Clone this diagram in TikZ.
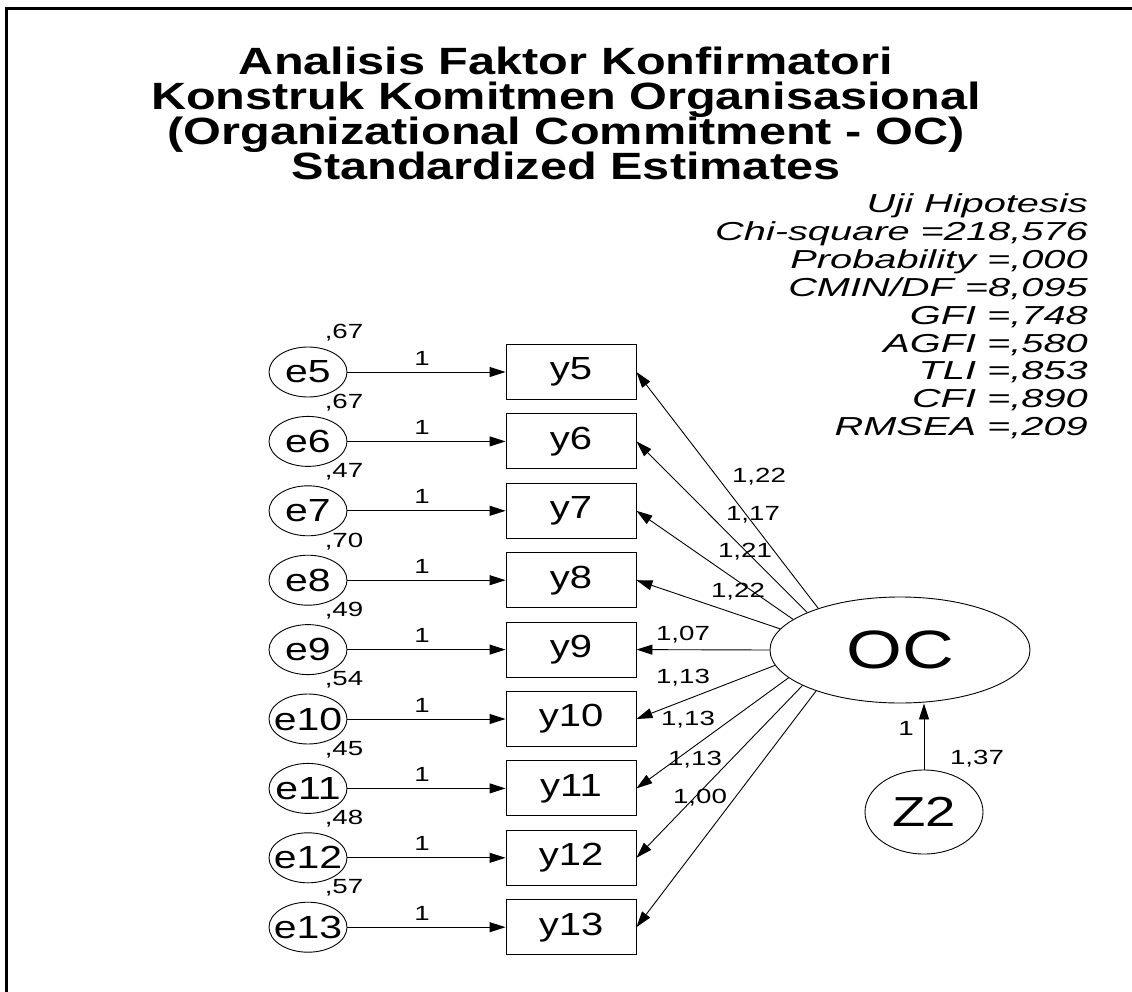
\documentclass[tikz,border=0pt]{standalone}
\usepackage{graphicx}
\usepackage{fontspec}
\setmainfont{Liberation Sans}
\usetikzlibrary{shapes.geometric,arrows.meta}
\newcommand{\wx}[2]{\scalebox{#1}[1]{#2}}
\begin{document}
\begin{tikzpicture}[x=1pt,y=-1pt,
  ttl/.style={anchor=base,inner sep=0pt,font=\fontsize{38}{38}\selectfont\bfseries},
  stt/.style={anchor=base east,inner sep=0pt,font=\fontsize{26}{26}\selectfont\itshape},
  evar/.style={ellipse,draw,line width=0.9pt,minimum width=78pt,minimum height=50pt,inner sep=0pt,font=\fontsize{32}{32}\selectfont},
  obs/.style={rectangle,draw,line width=0.9pt,minimum width=130pt,minimum height=55pt,inner sep=0pt,font=\fontsize{32}{32}\selectfont},
  lat/.style={ellipse,draw,line width=0.9pt,inner sep=0pt},
  small/.style={inner sep=0pt,font=\fontsize{20.5}{20.5}\selectfont},
  arr/.style={line width=0.9pt,-{Triangle[length=16pt,width=10pt]}}]
\useasboundingbox (0,0) rectangle (1132,992);
\draw[line width=3pt] (6.5,992) -- (6.5,9) -- (1132,9);
% title
\node[ttl] (t1) at (566,75) {\wx{1.28}{Analisis Faktor Konfirmatori}};
\node[ttl] (t2) at (566,110) {\wx{1.28}{Konstruk Komitmen Organisasional}};
\node[ttl] (t3) at (566,145) {\wx{1.28}{(Organizational Commitment - OC)}};
\node[ttl] (t4) at (566,180) {\wx{1.28}{Standardized Estimates}};
% fit statistics
\node[stt] (s1) at (1088,213) {\wx{1.53}{Uji Hipotesis}};
\node[stt] (s2) at (1088,240.8) {\wx{1.53}{Chi-square =218,576}};
\node[stt] (s3) at (1088,268.6) {\wx{1.53}{Probability =,000}};
\node[stt] (s4) at (1088,296.4) {\wx{1.53}{CMIN/DF =8,095}};
\node[stt] (s5) at (1088,324.2) {\wx{1.53}{GFI =,748}};
\node[stt] (s6) at (1088,352) {\wx{1.53}{AGFI =,580}};
\node[stt] (s7) at (1088,379.8) {\wx{1.53}{TLI =,853}};
\node[stt] (s8) at (1088,407.6) {\wx{1.53}{CFI =,890}};
\node[stt] (s9) at (1088,435.4) {\wx{1.53}{RMSEA =,209}};
% latent
\node[lat,minimum width=260pt,minimum height=106pt] (OC) at (900,650)
  {\makebox[0pt]{\fontsize{54}{54}\selectfont\wx{1.33}{OC}}};
\node[lat,minimum width=118pt,minimum height=84pt] (Z2) at (924,812)
  {\makebox[0pt]{\fontsize{42}{42}\selectfont\wx{1.3}{Z2}}};
\draw[arr] (Z2.north) -- (Z2.north |- OC.south);
\node[small] (zl) at (906,728) {\wx{1.35}{1}};
\node[small] (zv) at (977,759) {\wx{1.35}{1,37}};
% indicators
\foreach \i/\r/\v/\ld/\lx/\ly/\a in {
  5/372/67/1{,}22/759/477/153.7,
  6/441.4/67/1{,}17/753/515/158.2,
  7/510.8/47/1{,}21/745/552/164.2,
  8/580.2/70/1{,}22/738/592/170.5,
  9/649.6/49/1{,}07/683/635/180,
  10/719/54/1{,}13/683/678/187.7,
  11/788.4/45/1{,}13/688/720/194.5,
  12/857.8/48/1{,}13/695/760/200.7,
  13/927.2/57/1{,}00/700/798/206.6}{
  \node[evar] (e\i) at (308,\r) {\makebox[0pt]{\wx{1.28}{e\i}}};
  \node[obs] (y\i) at (571,\r) {\wx{1.25}{y\i}};
  \node[small] (v\i) at (344,\r-39) {\wx{1.35}{,\v}};
  \node[small] (o\i) at (422,\r-14) {\wx{1.35}{1}};
  \node[small] (l\i) at (\lx,\ly) {\wx{1.35}{\ld}};
  \draw[arr] (e\i) -- (y\i);
  \draw[arr] (OC.\a) -- (y\i.east);
}
\end{tikzpicture}
\end{document}
